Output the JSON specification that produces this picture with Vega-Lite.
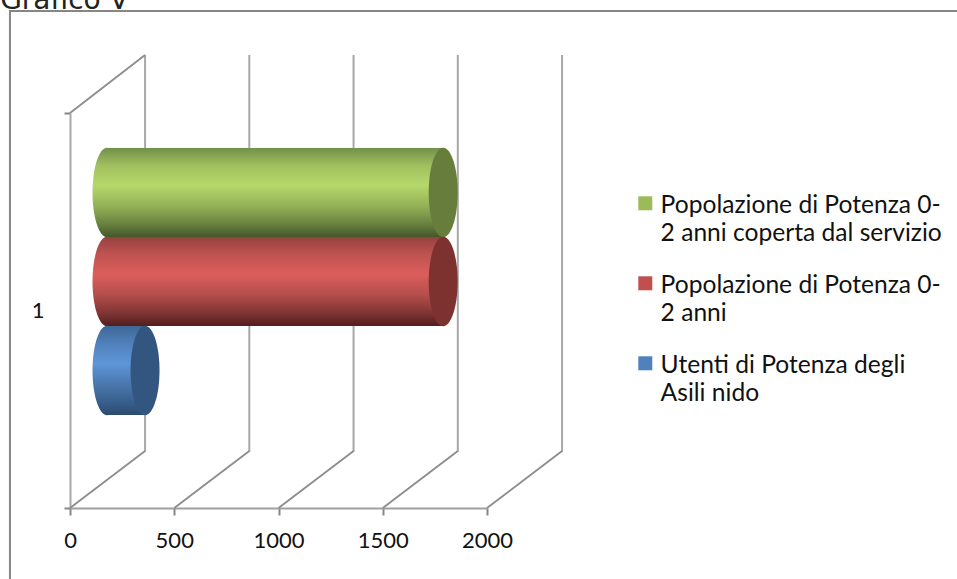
{
  "$schema": "https://vega.github.io/schema/vega-lite/v6.json",
  "autosize": "none",
  "width": 417,
  "height": 395,
  "padding": {"left": 70, "top": 113, "right": 470, "bottom": 71},
  "background": "#ffffff",
  "config": {"view": {"stroke": null}},
  "datasets": {
    "series": [
      {"categoria": "1", "serie": "Popolazione di Potenza 0-2 anni coperta dal servizio", "valore": 1610},
      {"categoria": "1", "serie": "Popolazione di Potenza 0-2 anni", "valore": 1610},
      {"categoria": "1", "serie": "Utenti di Potenza degli Asili nido", "valore": 180}
    ],
    "griglia": [
      {"tick": 0, "fondo": 360},
      {"tick": 500, "fondo": 860},
      {"tick": 1000, "fondo": 1360},
      {"tick": 1500, "fondo": 1860},
      {"tick": 2000, "fondo": 2360}
    ]
  },
  "resolve": {"scale": {"y": "independent"}},
  "layer": [
    {
      "description": "Chart area border and the value axis",
      "data": {"values": [{"x": -288, "x2": 6000, "y": 497, "y2": -300}]},
      "mark": {"type": "rect", "fill": "transparent", "stroke": "#868686", "strokeWidth": 2},
      "encoding": {
        "x": {"field": "x", "type": "quantitative", "scale": {"domain": [0, 2000], "nice": false},
          "axis": {"title": null, "values": [0, 500, 1000, 1500, 2000], "format": "d", "grid": false, "domainColor": "#a0a0a0", "domainWidth": 2, "tickColor": "#868686", "tickWidth": 2, "tickSize": 7, "labelFont": "Lato", "labelFontSize": 22, "labelColor": "#111111", "labelPadding": 15, "labelFlush": false}},
        "x2": {"field": "x2"},
        "y": {"field": "y", "type": "quantitative", "scale": {"domain": [0, 395], "nice": false, "zero": false}, "axis": null},
        "y2": {"field": "y2"}
      }
    },
    {
      "description": "Caption above the chart area",
      "data": {"values": [{"x": -335, "y": 499, "testo": "Grafico V"}]},
      "mark": {"type": "text", "align": "left", "baseline": "alphabetic", "font": "DejaVu Sans", "fontSize": 28, "color": "#222222"},
      "encoding": {
        "x": {"field": "x", "type": "quantitative", "scale": {"domain": [0, 2000], "nice": false}},
        "y": {"field": "y", "type": "quantitative", "scale": {"domain": [0, 395], "nice": false, "zero": false}, "axis": null},
        "text": {"field": "testo"}
      }
    },
    {
      "description": "Back wall gridlines",
      "data": {"name": "griglia"},
      "mark": {"type": "rule", "color": "#a8a8a8", "strokeWidth": 2},
      "encoding": {
        "x": {"field": "fondo", "type": "quantitative", "scale": {"domain": [0, 2000], "nice": false}},
        "y": {"datum": 56, "type": "quantitative", "scale": {"domain": [0, 395], "nice": false, "zero": false}, "axis": null},
        "y2": {"datum": 453}
      }
    },
    {
      "description": "Floor gridlines running into the depth",
      "data": {"name": "griglia"},
      "mark": {"type": "rule", "color": "#8c8c8c", "strokeWidth": 1.8},
      "encoding": {
        "x": {"field": "tick", "type": "quantitative", "scale": {"domain": [0, 2000], "nice": false}},
        "x2": {"field": "fondo"},
        "y": {"datum": 0, "type": "quantitative", "scale": {"domain": [0, 395], "nice": false, "zero": false}, "axis": null},
        "y2": {"datum": 57}
      }
    },
    {
      "description": "Side wall top edge",
      "data": {"values": [{"tick": 0, "fondo": 360}]},
      "mark": {"type": "rule", "color": "#8c8c8c", "strokeWidth": 1.8},
      "encoding": {
        "x": {"field": "tick", "type": "quantitative", "scale": {"domain": [0, 2000], "nice": false}},
        "x2": {"field": "fondo"},
        "y": {"datum": 395, "type": "quantitative", "scale": {"domain": [0, 395], "nice": false, "zero": false}, "axis": null},
        "y2": {"datum": 453}
      }
    },
    {
      "description": "Flat base bars carrying the legend and the category axis",
      "data": {"name": "series"},
      "mark": {"type": "bar", "xOffset": 37, "x2Offset": 37.5},
      "encoding": {
        "x": {"field": "valore", "type": "quantitative", "scale": {"domain": [0, 2000], "nice": false}},
        "y": {"field": "categoria", "type": "nominal", "scale": {"padding": 0},
          "axis": {"title": null, "orient": "left", "tickBand": "extent", "domainColor": "#a8a8a8", "domainWidth": 2, "tickColor": "#868686", "tickWidth": 2, "tickSize": 6, "labelFont": "Lato", "labelFontSize": 22, "labelColor": "#111111", "labelPadding": 20, "labelAngle": 0}},
        "yOffset": {"field": "serie", "type": "nominal", "sort": null, "scale": {"domain": ["Popolazione di Potenza 0-2 anni coperta dal servizio", "Popolazione di Potenza 0-2 anni", "Utenti di Potenza degli Asili nido"], "paddingInner": 0, "paddingOuter": 0.719, "align": 0.273}},
        "fill": {"field": "serie", "type": "nominal",
          "scale": {"domain": ["Popolazione di Potenza 0-2 anni coperta dal servizio", "Popolazione di Potenza 0-2 anni", "Utenti di Potenza degli Asili nido"], "range": ["#9bbb59", "#c0504d", "#4f81bd"]},
          "legend": {"title": null, "orient": "none", "legendX": 563, "legendY": 78, "padding": 0, "symbolType": "square", "symbolSize": 196, "symbolStrokeWidth": 0, "symbolOpacity": 1, "labelFont": "Lato", "labelFontSize": 24.6, "labelColor": "#111111", "labelLimit": 400, "labelOffset": 3, "rowPadding": 25,
            "encode": {"labels": {"update": {"lineHeight": {"value": 28}, "baseline": {"value": "alphabetic"}, "dy": {"value": 10}}}},
            "labelExpr": "datum.label == 'Popolazione di Potenza 0-2 anni coperta dal servizio' ? ['Popolazione di Potenza 0-', '2 anni coperta dal servizio'] : datum.label == 'Popolazione di Potenza 0-2 anni' ? ['Popolazione di Potenza 0-', '2 anni'] : ['Utenti di Potenza degli', 'Asili nido']"}
        }
      }
    },
    {
      "description": "Green cylinder",
      "data": {"name": "series"},
      "transform": [{"filter": "datum.serie == 'Popolazione di Potenza 0-2 anni coperta dal servizio'"}],
      "encoding": {
        "y": {"field": "categoria", "type": "nominal", "scale": {"padding": 0}, "axis": null},
        "yOffset": {"field": "serie", "type": "nominal", "sort": null, "scale": {"domain": ["Popolazione di Potenza 0-2 anni coperta dal servizio", "Popolazione di Potenza 0-2 anni", "Utenti di Potenza degli Asili nido"], "paddingInner": 0, "paddingOuter": 0.719, "align": 0.273}}
      },
      "layer": [
        {
          "mark": {"type": "point", "filled": true, "opacity": 1, "xOffset": 37, "size": 8000, "shape": "M -0.324,0 A 0.324,1 0 1 1 0.324,0 A 0.324,1 0 1 1 -0.324,0 Z",
            "fill": {"gradient": "linear", "x1": 0, "y1": 0, "x2": 0, "y2": 1, "stops": [{"offset": 0, "color": "#72904a"}, {"offset": 0.2, "color": "#a1c05f"}, {"offset": 0.42, "color": "#b5d86c"}, {"offset": 0.65, "color": "#94b256"}, {"offset": 0.85, "color": "#6a8240"}, {"offset": 1, "color": "#43582a"}]}},
          "encoding": {"x": {"datum": 0, "type": "quantitative", "scale": {"domain": [0, 2000], "nice": false}}}
        },
        {
          "mark": {"type": "bar", "xOffset": 37, "x2Offset": 37.5,
            "fill": {"gradient": "linear", "x1": 0, "y1": 0, "x2": 0, "y2": 1, "stops": [{"offset": 0, "color": "#72904a"}, {"offset": 0.2, "color": "#a1c05f"}, {"offset": 0.42, "color": "#b5d86c"}, {"offset": 0.65, "color": "#94b256"}, {"offset": 0.85, "color": "#6a8240"}, {"offset": 1, "color": "#43582a"}]}},
          "encoding": {"x": {"field": "valore", "type": "quantitative", "scale": {"domain": [0, 2000], "nice": false}}}
        },
        {
          "mark": {"type": "point", "filled": true, "opacity": 1, "xOffset": 37.5, "size": 8000, "fill": "#677d3b", "shape": "M -0.324,0 A 0.324,1 0 1 1 0.324,0 A 0.324,1 0 1 1 -0.324,0 Z"},
          "encoding": {"x": {"field": "valore", "type": "quantitative", "scale": {"domain": [0, 2000], "nice": false}}}
        }
      ]
    },
    {
      "description": "Red cylinder",
      "data": {"name": "series"},
      "transform": [{"filter": "datum.serie == 'Popolazione di Potenza 0-2 anni'"}],
      "encoding": {
        "y": {"field": "categoria", "type": "nominal", "scale": {"padding": 0}, "axis": null},
        "yOffset": {"field": "serie", "type": "nominal", "sort": null, "scale": {"domain": ["Popolazione di Potenza 0-2 anni coperta dal servizio", "Popolazione di Potenza 0-2 anni", "Utenti di Potenza degli Asili nido"], "paddingInner": 0, "paddingOuter": 0.719, "align": 0.273}}
      },
      "layer": [
        {
          "mark": {"type": "point", "filled": true, "opacity": 1, "xOffset": 37, "size": 8000, "shape": "M -0.324,0 A 0.324,1 0 1 1 0.324,0 A 0.324,1 0 1 1 -0.324,0 Z",
            "fill": {"gradient": "linear", "x1": 0, "y1": 0, "x2": 0, "y2": 1, "stops": [{"offset": 0, "color": "#964240"}, {"offset": 0.2, "color": "#c05351"}, {"offset": 0.42, "color": "#dc5e5c"}, {"offset": 0.65, "color": "#b34e4c"}, {"offset": 0.85, "color": "#803634"}, {"offset": 1, "color": "#531e1d"}]}},
          "encoding": {"x": {"datum": 0, "type": "quantitative", "scale": {"domain": [0, 2000], "nice": false}}}
        },
        {
          "mark": {"type": "bar", "xOffset": 37, "x2Offset": 37.5,
            "fill": {"gradient": "linear", "x1": 0, "y1": 0, "x2": 0, "y2": 1, "stops": [{"offset": 0, "color": "#964240"}, {"offset": 0.2, "color": "#c05351"}, {"offset": 0.42, "color": "#dc5e5c"}, {"offset": 0.65, "color": "#b34e4c"}, {"offset": 0.85, "color": "#803634"}, {"offset": 1, "color": "#531e1d"}]}},
          "encoding": {"x": {"field": "valore", "type": "quantitative", "scale": {"domain": [0, 2000], "nice": false}}}
        },
        {
          "mark": {"type": "point", "filled": true, "opacity": 1, "xOffset": 37.5, "size": 8000, "fill": "#7e3230", "shape": "M -0.324,0 A 0.324,1 0 1 1 0.324,0 A 0.324,1 0 1 1 -0.324,0 Z"},
          "encoding": {"x": {"field": "valore", "type": "quantitative", "scale": {"domain": [0, 2000], "nice": false}}}
        }
      ]
    },
    {
      "description": "Blue cylinder",
      "data": {"name": "series"},
      "transform": [{"filter": "datum.serie == 'Utenti di Potenza degli Asili nido'"}],
      "encoding": {
        "y": {"field": "categoria", "type": "nominal", "scale": {"padding": 0}, "axis": null},
        "yOffset": {"field": "serie", "type": "nominal", "sort": null, "scale": {"domain": ["Popolazione di Potenza 0-2 anni coperta dal servizio", "Popolazione di Potenza 0-2 anni", "Utenti di Potenza degli Asili nido"], "paddingInner": 0, "paddingOuter": 0.719, "align": 0.273}}
      },
      "layer": [
        {
          "mark": {"type": "point", "filled": true, "opacity": 1, "xOffset": 37, "size": 8000, "shape": "M -0.324,0 A 0.324,1 0 1 1 0.324,0 A 0.324,1 0 1 1 -0.324,0 Z",
            "fill": {"gradient": "linear", "x1": 0, "y1": 0, "x2": 0, "y2": 1, "stops": [{"offset": 0, "color": "#3e6796"}, {"offset": 0.2, "color": "#5080bb"}, {"offset": 0.42, "color": "#5e96d8"}, {"offset": 0.65, "color": "#4a78ae"}, {"offset": 0.85, "color": "#38608e"}, {"offset": 1, "color": "#2d4a6f"}]}},
          "encoding": {"x": {"datum": 0, "type": "quantitative", "scale": {"domain": [0, 2000], "nice": false}}}
        },
        {
          "mark": {"type": "bar", "xOffset": 37, "x2Offset": 37.5,
            "fill": {"gradient": "linear", "x1": 0, "y1": 0, "x2": 0, "y2": 1, "stops": [{"offset": 0, "color": "#3e6796"}, {"offset": 0.2, "color": "#5080bb"}, {"offset": 0.42, "color": "#5e96d8"}, {"offset": 0.65, "color": "#4a78ae"}, {"offset": 0.85, "color": "#38608e"}, {"offset": 1, "color": "#2d4a6f"}]}},
          "encoding": {"x": {"field": "valore", "type": "quantitative", "scale": {"domain": [0, 2000], "nice": false}}}
        },
        {
          "mark": {"type": "point", "filled": true, "opacity": 1, "xOffset": 37.5, "size": 8000, "fill": "#335681", "shape": "M -0.324,0 A 0.324,1 0 1 1 0.324,0 A 0.324,1 0 1 1 -0.324,0 Z"},
          "encoding": {"x": {"field": "valore", "type": "quantitative", "scale": {"domain": [0, 2000], "nice": false}}}
        }
      ]
    }
  ]
}
